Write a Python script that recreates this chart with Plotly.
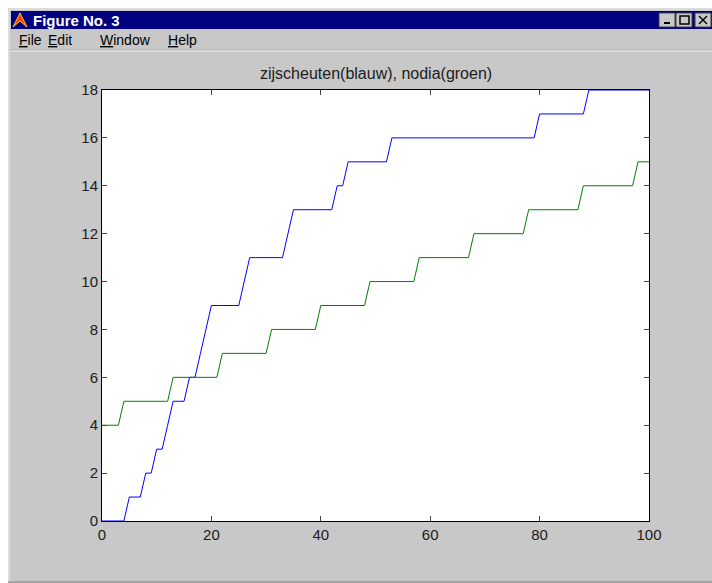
import plotly.graph_objects as go

# ---- data ----
x = list(range(0, 101))
blue_steps = {0: 0, 5: 1, 8: 2, 10: 3, 12: 4, 13: 5, 16: 6, 18: 7, 19: 8, 20: 9,
              26: 10, 27: 11, 34: 12, 35: 13, 43: 14, 45: 15, 53: 16, 80: 17, 89: 18}
green_steps = {0: 4, 4: 5, 13: 6, 22: 7, 31: 8, 40: 9, 49: 10, 58: 11, 68: 12,
               78: 13, 88: 14, 98: 15}

def expand(steps):
    out, cur = [], None
    for xi in x:
        if xi in steps:
            cur = steps[xi]
        out.append(cur)
    return out

zijscheuten = expand(blue_steps)
nodia = expand(green_steps)

title_text = "zijscheuten(blauw), nodia(groen)"
window_title = "Figure No. 3"
menu_items = ["File", "Edit", "Window", "Help"]
x_ticks = [0, 20, 40, 60, 80, 100]
y_ticks = [0, 2, 4, 6, 8, 10, 12, 14, 16, 18]

W, H = 712, 583
L, R, T, B = 102, 63, 90, 62
PW, PH = W - L - R, H - T - B
GRAY = "#c8c8c8"

def px(v):
    return (v - L) / PW

def py(v):
    return (H - B - v) / PH

fig = go.Figure()
fig.add_trace(go.Scatter(x=x, y=zijscheuten, mode="lines",
                         line=dict(color="#0000ff", width=1), showlegend=False))
fig.add_trace(go.Scatter(x=x, y=nodia, mode="lines",
                         line=dict(color="#008000", width=1), showlegend=False))

shapes = []
# white page outside the window (left and top strips)
shapes.append(dict(type="rect", xref="paper", yref="paper", layer="below",
                   x0=px(-2), x1=px(8), y0=py(585), y1=py(-2),
                   fillcolor="white", line=dict(width=0)))
shapes.append(dict(type="rect", xref="paper", yref="paper", layer="below",
                   x0=px(-2), x1=px(714), y0=py(8), y1=py(-2),
                   fillcolor="white", line=dict(width=0)))
shapes.append(dict(type="line", xref="paper", yref="paper", layer="below",
                   x0=px(9), x1=px(9), y0=py(582), y1=py(9),
                   line=dict(color="#f0f0f0", width=1)))
shapes.append(dict(type="line", xref="paper", yref="paper", layer="below",
                   x0=px(9), x1=px(714), y0=py(9), y1=py(9),
                   line=dict(color="#f0f0f0", width=1)))
shapes.append(dict(type="line", xref="paper", yref="paper", layer="below",
                   x0=px(8), x1=px(714), y0=py(582), y1=py(582),
                   line=dict(color="#808080", width=1)))
# title bar
shapes.append(dict(type="rect", xref="paper", yref="paper", layer="below",
                   x0=px(11), x1=px(714), y0=py(29), y1=py(11),
                   fillcolor="#000080", line=dict(width=0)))
# icon
shapes.append(dict(type="path", xref="paper", yref="paper",
                   path=f"M {px(13)},{py(27)} L {px(20)},{py(13)} L {px(27)},{py(27)} L {px(20)},{py(21)} Z",
                   fillcolor="#ff4000", line=dict(color="#ffcc00", width=1)))
# window buttons
for bx in (659, 676, 695):
    shapes.append(dict(type="rect", xref="paper", yref="paper",
                       x0=px(bx), x1=px(bx + 16), y0=py(27), y1=py(13),
                       fillcolor=GRAY, line=dict(color="#404040", width=1)))
shapes.append(dict(type="line", xref="paper", yref="paper",
                   x0=px(664), x1=px(670), y0=py(23), y1=py(23),
                   line=dict(color="black", width=2)))
shapes.append(dict(type="rect", xref="paper", yref="paper",
                   x0=px(680), x1=px(689), y0=py(24), y1=py(16),
                   line=dict(color="black", width=1.5)))
shapes.append(dict(type="line", xref="paper", yref="paper",
                   x0=px(699), x1=px(707), y0=py(16), y1=py(24),
                   line=dict(color="black", width=1.5)))
shapes.append(dict(type="line", xref="paper", yref="paper",
                   x0=px(699), x1=px(707), y0=py(24), y1=py(16),
                   line=dict(color="black", width=1.5)))
# menu separator
shapes.append(dict(type="line", xref="paper", yref="paper", layer="below",
                   x0=px(9), x1=px(714), y0=py(50), y1=py(50),
                   line=dict(color="#a8a8a8", width=1)))
shapes.append(dict(type="line", xref="paper", yref="paper", layer="below",
                   x0=px(9), x1=px(714), y0=py(51), y1=py(51),
                   line=dict(color="#f0f0f0", width=1)))

annotations = []
annotations.append(dict(text=f"<b>{window_title}</b>", xref="paper", yref="paper",
                        x=px(31), y=py(20), xanchor="left", yanchor="middle",
                        showarrow=False, font=dict(family="Arial, Liberation Sans", size=15, color="white")))
menu_x = [17, 46, 98, 166]
for name, mx in zip(menu_items, menu_x):
    annotations.append(dict(text=f'<span style="text-decoration:underline">{name[0]}</span>{name[1:]}',
                            xref="paper", yref="paper", x=px(mx), y=py(40),
                            xanchor="left", yanchor="middle", showarrow=False,
                            font=dict(family="Arial, Liberation Sans", size=14, color="black")))
annotations.append(dict(text=title_text, xref="paper", yref="paper",
                        x=0.5, y=py(73), xanchor="center", yanchor="middle", showarrow=False,
                        font=dict(family="Arial, Liberation Sans", size=16, color="#202020")))

fig.update_layout(
    width=W, height=H,
    margin=dict(l=L, r=R, t=T, b=B),
    paper_bgcolor=GRAY,
    plot_bgcolor="white",
    shapes=shapes,
    annotations=annotations,
    xaxis=dict(range=[0, 100], tickvals=x_ticks, ticks="inside", ticklen=5,
               showline=True, linecolor="black", linewidth=1, mirror="ticks",
               showgrid=False, zeroline=False,
               tickfont=dict(family="Arial, Liberation Sans", size=15, color="#202020")),
    yaxis=dict(range=[0, 18], tickvals=y_ticks, ticks="inside", ticklen=5,
               showline=True, linecolor="black", linewidth=1, mirror="ticks",
               showgrid=False, zeroline=False,
               tickfont=dict(family="Arial, Liberation Sans", size=15, color="#202020")),
)

fig.write_html("out.html", config={"displayModeBar": False},
               post_script="document.body.style.margin='0';document.body.style.overflow='hidden';")
